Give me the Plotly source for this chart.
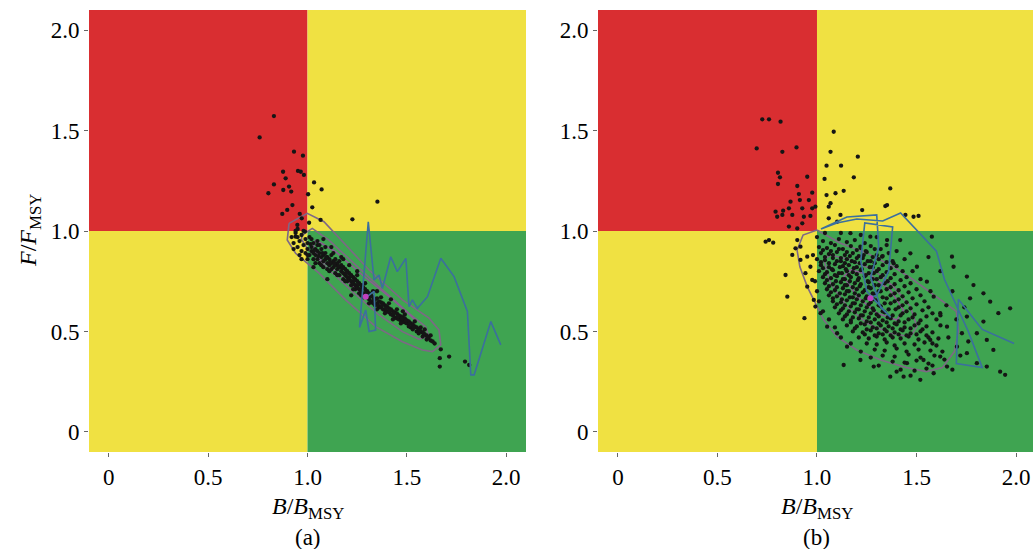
import plotly.graph_objects as go

# ---------------- data ----------------
tick_vals = [0, 0.5, 1.0, 1.5, 2.0]
tick_text = ["0", "0.5", "1.0", "1.5", "2.0"]
panel_labels = ["(a)", "(b)"]

# Panel (a): scattered outliers
a_out = [(0.831,1.572),(0.759,1.466),(0.932,1.395),(0.977,1.375),(0.952,1.299),(0.966,1.295),
         (0.877,1.295),(0.982,1.279),(0.890,1.262),(1.033,1.242),(0.831,1.232),(0.907,1.221),
         (1.071,1.207),(0.878,1.204),(0.918,1.196),(0.803,1.188),(1.003,1.183),(1.352,1.146),
         (1.024,1.118),(0.898,1.105),(0.924,1.129),(0.873,1.085),(0.961,1.085),(1.008,1.041),
         (1.226,1.058),(0.949,1.030),(0.971,1.063),(0.987,0.997),(0.940,0.972),(1.066,1.055),
         (1.671,0.411),(1.713,0.375),(1.666,0.367),(1.666,0.325),(1.793,0.350),(1.814,0.333)]
# Panel (a): dense band
a_band = [(0.92,0.97),(0.93,0.94),(0.94,0.99),(0.95,0.92),(0.95,0.97),(0.96,0.95),(0.97,0.90),(0.97,0.98),
          (0.98,0.93),(0.99,0.96),(0.99,0.89),(1.00,0.94),(1.00,0.91),(1.01,0.97),(1.01,0.88),
          (1.02,0.92),(1.02,0.90),(1.03,0.94),(1.03,0.89),(1.03,0.86),(1.04,0.91),(1.04,0.88),(1.05,0.93),
          (1.05,0.90),(1.05,0.86),(1.06,0.89),(1.06,0.84),(1.07,0.91),(1.07,0.87),(1.08,0.88),(1.08,0.85),
          (1.08,0.82),(1.09,0.89),(1.09,0.86),(1.10,0.87),(1.10,0.84),(1.10,0.81),
          (1.11,0.86),(1.11,0.83),(1.12,0.88),(1.12,0.84),(1.12,0.81),(1.13,0.85),(1.13,0.82),(1.14,0.86),
          (1.14,0.83),(1.14,0.79),(1.15,0.84),(1.15,0.81),(1.16,0.85),(1.16,0.82),(1.16,0.78),(1.17,0.83),
          (1.17,0.80),(1.18,0.82),(1.18,0.79),(1.18,0.76),(1.19,0.81),(1.19,0.78),(1.20,0.80),(1.20,0.77),(1.20,0.75),
          (1.21,0.79),(1.21,0.76),(1.22,0.78),(1.22,0.75),(1.22,0.73),(1.23,0.77),(1.23,0.74),(1.24,0.76),
          (1.24,0.73),(1.24,0.71),(1.25,0.75),(1.25,0.72),(1.26,0.74),(1.26,0.71),(1.26,0.69),(1.27,0.73),
          (1.27,0.70),(1.28,0.72),(1.28,0.69),(1.28,0.67),(1.29,0.71),(1.29,0.68),(1.30,0.70),(1.30,0.67),
          (1.31,0.69),(1.31,0.66),(1.32,0.68),(1.32,0.65),(1.33,0.67),(1.33,0.64),(1.34,0.66),(1.34,0.63),
          (1.35,0.665),(1.35,0.64),(1.36,0.65),(1.36,0.62),(1.37,0.645),(1.37,0.62),(1.38,0.64),(1.38,0.61),
          (1.39,0.63),(1.39,0.605),(1.40,0.625),(1.40,0.60),
          (1.41,0.615),(1.41,0.595),(1.42,0.61),(1.42,0.585),(1.43,0.60),(1.43,0.58),(1.44,0.595),(1.44,0.57),
          (1.45,0.59),(1.45,0.565),(1.46,0.58),(1.46,0.56),(1.47,0.575),(1.47,0.555),(1.48,0.57),(1.48,0.55),
          (1.49,0.565),(1.49,0.545),(1.50,0.555),(1.50,0.54),
          (1.51,0.55),(1.52,0.54),(1.52,0.52),(1.53,0.535),(1.54,0.525),(1.55,0.52),(1.55,0.50),(1.56,0.51),
          (1.57,0.50),(1.58,0.495),(1.58,0.475),(1.59,0.485),(1.60,0.48),(1.61,0.47),(1.62,0.455),(1.63,0.45),
          (1.62,0.48),(1.64,0.44),(1.57,0.52),(1.53,0.51),
          (1.05,0.95),(1.08,0.96),(1.12,0.92),(1.18,0.86),(1.25,0.80),(1.03,0.82),(1.10,0.76),(1.22,0.68),
          (1.35,0.70),(1.42,0.66),(1.48,0.60),(0.94,1.00),(0.96,0.88),(1.00,0.86),
          (1.02,0.96),(1.04,0.84),(1.06,0.93),(1.07,0.83),(1.09,0.92),(1.11,0.80),(1.13,0.89),(1.15,0.78),
          (1.17,0.87),(1.19,0.75),(1.21,0.83),(1.23,0.71),(1.25,0.78),(1.27,0.68),(1.29,0.74),(1.31,0.64),
          (1.33,0.70),(1.35,0.61),(1.37,0.67),(1.39,0.59),(1.41,0.64),(1.43,0.56),(1.45,0.61),(1.47,0.54),
          (1.49,0.585),(1.51,0.525),(1.54,0.55),(1.56,0.49),(1.59,0.51),(1.60,0.46),(0.93,0.91),(0.95,1.01),
          (0.97,0.86),(0.98,1.00),(1.00,0.88),(1.015,0.935),(1.035,0.905),(1.055,0.875),(1.075,0.89),
          (1.095,0.87),(1.115,0.845),(1.135,0.84),(1.155,0.825),(1.175,0.815),(1.195,0.79),(1.215,0.775),
          (1.235,0.755),(1.255,0.735),(1.275,0.715),(1.295,0.695),(1.315,0.675),(1.335,0.655),(1.355,0.63),
          (1.375,0.63),(1.395,0.615),(1.415,0.605),(1.435,0.59),(1.455,0.575),(1.475,0.565),(1.495,0.555),
          (1.515,0.54),(1.535,0.52),(1.565,0.505),(1.585,0.49),(1.605,0.47)]
# Panel (a): trajectory and contours
a_traj = [(1.973,0.433),(1.923,0.549),(1.839,0.284),(1.822,0.284),(1.805,0.600),(1.738,0.773),(1.671,0.864),
          (1.604,0.673),(1.553,0.615),(1.528,0.657),(1.511,0.623),(1.495,0.864),(1.452,0.798),(1.419,0.872),
          (1.377,0.715),(1.360,0.781),(1.335,0.756),(1.306,1.046),(1.262,0.520),(1.293,0.607),(1.310,0.500),
          (1.343,0.507),(1.335,0.700),(1.295,0.670)]
a_cont_outer = [(0.907,1.038),(0.999,1.088),(1.083,1.046),(1.192,0.930),(1.310,0.806),(1.478,0.657),(1.612,0.566),
                (1.662,0.507),(1.671,0.433),(1.629,0.400),(1.578,0.408),(1.478,0.449),(1.343,0.524),(1.192,0.657),
                (1.058,0.790),(0.940,0.889),(0.898,0.955),(0.907,1.038)]
a_cont_mid = [(0.974,0.980),(1.024,1.013),(1.108,0.955),(1.226,0.847),(1.360,0.723),(1.511,0.590),(1.595,0.524),
              (1.609,0.478),(1.562,0.461),(1.478,0.499),(1.360,0.582),(1.226,0.698),(1.092,0.822),(0.999,0.914),
              (0.969,0.959),(0.974,0.980)]
a_cont_inner = [(1.041,0.955),(1.142,0.897),(1.276,0.781),(1.411,0.673),(1.511,0.587),(1.545,0.554),(1.524,0.532),
                (1.478,0.544),(1.377,0.607),(1.259,0.698),(1.142,0.798),(1.058,0.864),(1.029,0.922),(1.041,0.955)]
a_centre = (1.293, 0.673)

# Panel (b): scattered outliers
b_out = [(0.725,1.556),(0.759,1.556),(0.817,1.544),(1.084,1.494),(0.697,1.411),(0.826,1.394),(0.897,1.416),
         (1.068,1.394),(1.205,1.370),(1.121,1.325),(1.048,1.325),(0.804,1.290),(0.814,1.267),(1.185,1.267),
         (0.951,1.270),(0.804,1.234),(1.038,1.259),(0.901,1.224),(1.368,1.212),(1.134,1.200),(1.093,1.188),
         (1.048,1.179),(0.909,1.184),(0.976,1.191),(0.867,1.146),(0.914,1.154),(0.959,1.154),(1.343,1.124),
         (1.068,1.138),(1.059,1.121),(1.227,1.104),(0.792,1.096),(0.830,1.101),(0.859,1.113),(0.926,1.113),
         (0.976,1.113),(0.992,1.121),(0.800,1.071),(0.826,1.080),(0.876,1.080),(0.934,1.071),(0.967,1.075),
         (1.118,1.080),(1.352,1.129),(1.444,1.080),(1.510,1.075),(0.859,1.022),(0.901,1.013),(0.926,1.038),
         (1.059,1.063),(1.101,1.046),(0.742,0.947),(0.780,0.942),(0.759,0.955),(0.842,0.781),(0.851,0.673),
         (0.937,0.566),(0.876,0.881),(0.901,0.955),(0.917,0.922),(0.892,0.914),(0.951,0.872),(0.917,0.856),
         (0.967,0.822),(0.942,0.790),(0.976,0.756),(0.951,0.723),(0.984,0.657),(0.992,0.624),
         (1.970,0.615),(1.911,0.591),(1.853,0.458),(1.886,0.408),(1.945,0.284),(1.920,0.300),(1.836,0.549),
         (1.786,0.731),(1.836,0.690),(1.753,0.773),(1.678,0.872),(1.577,0.972),(1.485,1.071),(1.686,0.822),
         (1.769,0.665),(1.870,0.648),(1.753,0.574),(1.803,0.491),(1.728,0.491),(1.753,0.392),(1.803,0.342),
         (1.853,0.325),(1.703,0.424),(1.653,0.325),(1.586,0.292),(1.519,0.259),(1.435,0.275),(1.368,0.275),
         (1.285,0.325),(1.218,0.358),(1.134,0.333),(1.151,0.424),(1.101,0.491),(1.051,0.524),(1.018,0.591),
         (1.535,0.358),(1.452,0.342),(1.619,0.375),(1.569,0.458),(1.653,0.524),(1.619,0.591),(1.586,0.673),
         (1.552,0.748),(1.502,0.822),(1.469,0.889),(1.418,0.955),(1.385,0.839),(1.352,0.955),(1.327,0.872),
         (1.268,0.972),(1.218,0.922),(1.168,0.989),
         (1.58,0.44),(1.63,0.40),(1.66,0.47),(1.62,0.58),(1.65,0.63),(1.57,0.70),(1.52,0.76),(1.48,0.80),
         (1.44,0.86),(1.40,0.90),(1.35,0.93),(1.30,0.97),(1.22,0.98),(1.12,0.99),(1.04,0.99),(1.00,0.97),
         (0.98,0.88),(0.99,0.75),(1.00,0.70),(1.01,0.65),(1.03,0.60),(1.06,0.56),(1.09,0.52),(1.12,0.47),
         (1.17,0.44),(1.22,0.40),(1.27,0.37),(1.31,0.33),(1.40,0.30),(1.47,0.28),(1.58,0.33),(1.64,0.36),
         (1.68,0.31),(1.72,0.38),(1.76,0.45),(1.70,0.56),(1.74,0.62),(1.68,0.70),(1.62,0.80),(1.56,0.87)]
# Panel (b): dense core
b_core = [(1.03,0.95),(1.07,0.94),(1.11,0.96),(1.15,0.945),(1.19,0.955),(1.24,0.94),
          (1.01,0.92),(1.05,0.915),(1.09,0.93),(1.13,0.91),(1.17,0.925),(1.22,0.915),(1.27,0.925),(1.32,0.91),
          (1.02,0.89),(1.06,0.885),(1.10,0.895),(1.14,0.88),(1.18,0.89),(1.21,0.875),(1.25,0.895),(1.30,0.88),(1.36,0.89),
          (1.00,0.86),(1.04,0.855),(1.08,0.865),(1.12,0.85),(1.15,0.86),(1.19,0.845),(1.23,0.865),(1.27,0.85),(1.31,0.86),(1.38,0.85),
          (1.02,0.83),(1.06,0.82),(1.09,0.835),(1.13,0.825),(1.16,0.83),(1.20,0.82),(1.24,0.835),(1.28,0.82),(1.33,0.83),(1.40,0.825),
          (1.01,0.80),(1.05,0.795),(1.08,0.805),(1.11,0.79),(1.15,0.80),(1.18,0.795),(1.22,0.805),(1.26,0.79),(1.30,0.80),(1.35,0.795),(1.43,0.80),
          (1.03,0.77),(1.07,0.765),(1.10,0.775),(1.14,0.76),(1.17,0.77),(1.21,0.765),(1.24,0.775),(1.28,0.76),(1.32,0.77),(1.37,0.765),(1.45,0.77),
          (1.04,0.74),(1.08,0.735),(1.12,0.745),(1.15,0.73),(1.19,0.74),(1.22,0.735),(1.26,0.745),(1.29,0.73),(1.34,0.74),(1.39,0.735),(1.47,0.74),
          (1.05,0.71),(1.09,0.705),(1.13,0.715),(1.16,0.70),(1.20,0.71),(1.24,0.705),(1.27,0.715),(1.31,0.70),(1.35,0.71),(1.41,0.705),(1.50,0.71),
          (1.06,0.68),(1.10,0.675),(1.14,0.685),(1.18,0.67),(1.21,0.68),(1.25,0.675),(1.29,0.685),(1.33,0.67),(1.37,0.68),(1.43,0.675),(1.52,0.68),
          (1.08,0.65),(1.12,0.645),(1.15,0.655),(1.19,0.64),(1.23,0.65),(1.27,0.645),(1.30,0.655),(1.34,0.64),(1.39,0.65),(1.45,0.645),(1.54,0.65),
          (1.09,0.62),(1.13,0.615),(1.17,0.625),(1.21,0.61),(1.25,0.62),(1.28,0.615),(1.32,0.625),(1.36,0.61),(1.41,0.62),(1.47,0.615),(1.56,0.62),
          (1.11,0.59),(1.15,0.585),(1.19,0.595),(1.23,0.58),(1.27,0.59),(1.30,0.585),(1.34,0.595),(1.38,0.58),(1.43,0.59),(1.49,0.585),(1.58,0.59),
          (1.13,0.56),(1.17,0.555),(1.21,0.565),(1.25,0.55),(1.29,0.56),(1.33,0.555),(1.37,0.565),(1.41,0.55),(1.46,0.56),(1.52,0.555),(1.60,0.56),
          (1.15,0.53),(1.20,0.525),(1.24,0.535),(1.28,0.52),(1.32,0.53),(1.36,0.525),(1.40,0.535),(1.44,0.52),(1.49,0.53),(1.55,0.525),(1.62,0.53),
          (1.18,0.50),(1.23,0.495),(1.27,0.505),(1.31,0.49),(1.35,0.50),(1.39,0.495),(1.43,0.505),(1.47,0.49),(1.52,0.50),(1.58,0.495),
          (1.21,0.47),(1.26,0.465),(1.30,0.475),(1.34,0.46),(1.38,0.47),(1.42,0.465),(1.46,0.475),(1.51,0.46),(1.56,0.47),(1.61,0.465),
          (1.25,0.44),(1.30,0.435),(1.35,0.445),(1.39,0.43),(1.44,0.44),(1.49,0.435),(1.54,0.445),(1.60,0.43),
          (1.29,0.41),(1.34,0.405),(1.40,0.415),(1.45,0.40),(1.51,0.41),(1.57,0.405),
          (1.33,0.38),(1.39,0.375),(1.46,0.385),(1.52,0.37),(1.59,0.38),
          (1.38,0.35),(1.44,0.345),(1.50,0.355),(1.56,0.34),
          (1.42,0.31),(1.49,0.305),(1.55,0.315),
          (1.03,0.905),(1.07,0.90),(1.11,0.91),(1.15,0.895),(1.20,0.905),(1.245,0.90),(1.29,0.91),
          (1.04,0.87),(1.08,0.88),(1.12,0.865),(1.165,0.875),(1.20,0.865),(1.235,0.88),(1.28,0.87),(1.33,0.875),
          (1.02,0.845),(1.06,0.84),(1.10,0.85),(1.14,0.84),(1.175,0.85),(1.215,0.84),(1.255,0.85),(1.29,0.84),(1.35,0.845),
          (1.03,0.815),(1.075,0.81),(1.115,0.82),(1.145,0.81),(1.185,0.815),(1.225,0.81),(1.265,0.82),(1.31,0.81),(1.37,0.815),
          (1.04,0.785),(1.09,0.78),(1.125,0.79),(1.16,0.78),(1.20,0.785),(1.245,0.78),(1.285,0.79),(1.33,0.78),(1.39,0.785),
          (1.05,0.755),(1.095,0.75),(1.13,0.76),(1.165,0.75),(1.205,0.755),(1.255,0.75),(1.30,0.76),(1.355,0.75),(1.42,0.755),
          (1.06,0.725),(1.10,0.72),(1.14,0.73),(1.18,0.72),(1.215,0.725),(1.26,0.72),(1.31,0.73),(1.37,0.72),(1.44,0.725),
          (1.07,0.695),(1.115,0.69),(1.15,0.70),(1.19,0.69),(1.23,0.695),(1.28,0.69),(1.32,0.70),(1.39,0.69),(1.46,0.695),
          (1.08,0.665),(1.125,0.66),(1.165,0.67),(1.20,0.66),(1.245,0.665),(1.285,0.66),(1.35,0.665),(1.41,0.66),(1.48,0.665),
          (1.10,0.635),(1.14,0.63),(1.18,0.64),(1.22,0.63),(1.26,0.635),(1.31,0.63),(1.37,0.64),(1.43,0.63),(1.50,0.635),
          (1.12,0.605),(1.16,0.60),(1.20,0.61),(1.24,0.60),(1.285,0.605),(1.33,0.60),(1.395,0.61),(1.45,0.60),(1.53,0.605),
          (1.14,0.575),(1.18,0.57),(1.22,0.58),(1.26,0.57),(1.31,0.575),(1.355,0.57),(1.42,0.58),(1.48,0.57),(1.55,0.575),
          (1.17,0.545),(1.22,0.54),(1.27,0.545),(1.31,0.54),(1.35,0.545),(1.39,0.54),(1.44,0.545),(1.51,0.54),
          (1.19,0.515),(1.25,0.51),(1.30,0.515),(1.34,0.51),(1.38,0.515),(1.42,0.51),(1.47,0.515),(1.53,0.51),
          (1.24,0.485),(1.29,0.48),(1.33,0.485),(1.37,0.48),(1.41,0.485),(1.45,0.48),(1.50,0.485),(1.55,0.48)]
# Panel (b): trajectory and contours
b_traj = [(1.99,0.44),(1.83,0.51),(1.71,0.66),(1.70,0.34),(1.83,0.32),(1.76,0.50),(1.64,0.76),(1.60,0.90),
          (1.42,1.09),(1.33,1.05),(1.20,1.06),(1.10,1.04),(1.02,1.01),(1.15,1.07),(1.30,1.08),(1.31,0.92),
          (1.27,0.77),(1.32,0.62),(1.37,0.57),(1.25,0.70),(1.22,0.85),(1.24,1.04),(1.38,1.02),(1.36,0.80),
          (1.30,0.68),(1.27,0.67)]
b_cont_outer = [(1.00,1.005),(0.93,0.98),(0.90,0.905),(0.914,0.822),(0.951,0.723),(0.992,0.640),(1.034,0.557),
                (1.10,0.474),(1.20,0.408),(1.32,0.358),(1.45,0.320),(1.55,0.300),(1.63,0.320),(1.69,0.400),
                (1.71,0.500),(1.70,0.600),(1.60,0.673),(1.485,0.756),(1.385,0.822),(1.252,0.889),(1.118,0.939),
                (1.04,0.980),(1.00,1.005)]
b_cont_mid = [(1.034,0.856),(1.068,0.740),(1.151,0.624),(1.252,0.541),(1.368,0.491),(1.469,0.474),(1.502,0.524),
              (1.469,0.624),(1.385,0.723),(1.285,0.806),(1.168,0.856),(1.068,0.881),(1.034,0.856)]
b_cont_inner = [(1.134,0.773),(1.202,0.673),(1.302,0.591),(1.402,0.557),(1.435,0.607),(1.368,0.706),(1.268,0.781),
                (1.168,0.806),(1.134,0.773)]
b_centre = (1.268, 0.665)

# ---------------- styling ----------------
RED = "#D92E31"
YELLOW = "#F0E142"
GREEN = "#3FA451"
DOT = "#151515"
TRAJ = "#3B6F9E"
CONT = "#7E6886"
CONT_IN = "#8C5A94"
CENTRE = "#C040C0"
FONT = "Liberation Serif, Times New Roman, serif"


def xs(p):
    return [q[0] for q in p]


def ys(p):
    return [q[1] for q in p]


fig = go.Figure()

panels = [
    ("x", "y", a_out + a_band, a_traj, [a_cont_outer, a_cont_mid, a_cont_inner], a_centre),
    ("x2", "y2", b_out + b_core, b_traj, [b_cont_outer, b_cont_mid, b_cont_inner], b_centre),
]

for xa, ya, pts, traj, conts, cen in panels:
    for i, c in enumerate(conts):
        fig.add_trace(go.Scatter(x=xs(c), y=ys(c), mode="lines", xaxis=xa, yaxis=ya,
                                 line=dict(color=CONT_IN if i == 2 else CONT, width=1.6),
                                 showlegend=False, hoverinfo="skip"))
    fig.add_trace(go.Scatter(x=xs(pts), y=ys(pts), mode="markers", xaxis=xa, yaxis=ya,
                             marker=dict(color=DOT, size=4.3), showlegend=False))
    fig.add_trace(go.Scatter(x=xs(traj), y=ys(traj), mode="lines", xaxis=xa, yaxis=ya,
                             line=dict(color=TRAJ, width=1.6), showlegend=False))
    fig.add_trace(go.Scatter(x=[cen[0]], y=[cen[1]], mode="markers", xaxis=xa, yaxis=ya,
                             marker=dict(color=CENTRE, size=6), showlegend=False))

# quadrant shading
for xr, yr in [("x", "y"), ("x2", "y2")]:
    for (x0, x1, y0, y1, col) in [(-0.1, 1.0, 1.0, 2.1, RED), (1.0, 2.1, 1.0, 2.1, YELLOW),
                                  (-0.1, 1.0, -0.1, 1.0, YELLOW), (1.0, 2.1, -0.1, 1.0, GREEN)]:
        fig.add_shape(type="rect", xref=xr, yref=yr, x0=x0, x1=x1, y0=y0, y1=y1,
                      fillcolor=col, line=dict(width=0), layer="below")

axis_common = dict(tickvals=tick_vals, ticktext=tick_text, ticks="outside", ticklen=4,
                   tickcolor="#666", showgrid=False, zeroline=False, showline=False,
                   tickfont=dict(family=FONT, size=23, color="black"), range=[-0.1, 2.1])

ydom = [1 - 452 / 549, 1 - 10 / 549]
fig.update_layout(
    width=1033, height=549,
    margin=dict(l=0, r=0, t=0, b=0),
    paper_bgcolor="white", plot_bgcolor="white",
    xaxis=dict(domain=[89 / 1033, 526 / 1033], anchor="y", **axis_common),
    yaxis=dict(domain=ydom, anchor="x", **axis_common),
    xaxis2=dict(domain=[598 / 1033, 1.0], anchor="y2", **{**axis_common, "range": [-0.1, 2.085]}),
    yaxis2=dict(domain=ydom, anchor="x2", **axis_common),
)

xtitle = "<i>B</i>/<i>B</i><sub>MSY</sub>"
for xr, lab in [("x", panel_labels[0]), ("x2", panel_labels[1])]:
    fig.add_annotation(x=1.0, xref=xr, y=1 - 508 / 549, yref="paper", text=xtitle, showarrow=False,
                       xanchor="center", yanchor="middle",
                       font=dict(family=FONT, size=24, color="black"))
    fig.add_annotation(x=1.0, xref=xr, y=1 - 537 / 549, yref="paper", text=lab, showarrow=False,
                       xanchor="center", yanchor="middle",
                       font=dict(family=FONT, size=23, color="black"))

fig.add_annotation(x=30 / 1033, xref="paper", y=1.0, yref="y", text="<i>F</i>/<i>F</i><sub>MSY</sub>",
                   textangle=-90, showarrow=False, xanchor="center", yanchor="middle",
                   font=dict(family=FONT, size=24, color="black"))

fig.write_html("out.html", config={"displayModeBar": False},
               post_script="document.body.style.margin='0';document.body.style.overflow='hidden';")
